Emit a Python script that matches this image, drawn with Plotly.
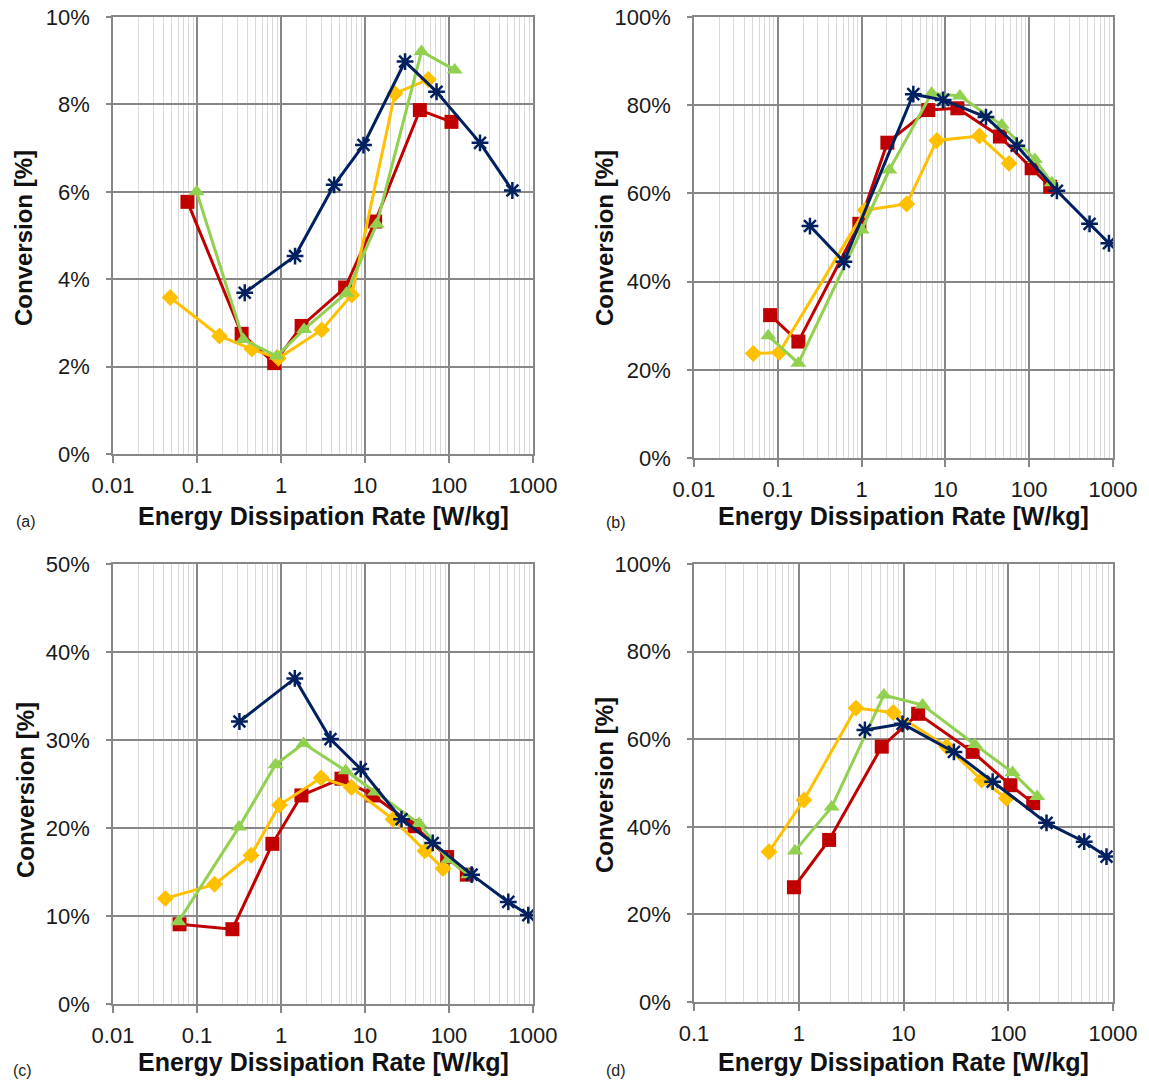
import plotly.graph_objects as go

# ---- data: energy dissipation rate [W/kg] and conversion [%] ----
# panel (a)
a_navy_x = [0.37, 1.47, 4.3, 9.6, 30, 71, 234, 568]
a_navy_y = [3.69, 4.53, 6.16, 7.07, 8.98, 8.29, 7.12, 6.03]
a_red_x = [0.077, 0.34, 0.83, 1.76, 5.8, 13.2, 45, 107]
a_red_y = [5.77, 2.75, 2.08, 2.93, 3.81, 5.32, 7.87, 7.60]
a_green_x = [0.099, 0.356, 0.89, 1.88, 6.0, 13.8, 47, 117]
a_green_y = [6.00, 2.62, 2.24, 2.85, 3.68, 5.26, 9.21, 8.79]
a_yellow_x = [0.048, 0.185, 0.45, 0.93, 3.05, 6.95, 22.7, 56.7]
a_yellow_y = [3.58, 2.70, 2.40, 2.19, 2.84, 3.64, 8.25, 8.57]

# panel (b)
b_navy_x = [0.242, 0.615, 4.14, 9.4, 30.5, 71, 214, 525, 895]
b_navy_y = [52.6, 44.5, 82.5, 81.2, 77.3, 70.8, 60.6, 53.1, 48.7]
b_red_x = [0.081, 0.176, 0.94, 2.03, 6.25, 13.9, 44.7, 107, 178]
b_red_y = [32.4, 26.4, 53.1, 71.5, 78.9, 79.3, 72.9, 65.7, 61.5]
b_green_x = [0.077, 0.176, 1.0, 2.14, 6.85, 14.9, 47, 117, 186]
b_green_y = [27.7, 21.5, 51.7, 65.3, 82.7, 82.1, 75.5, 67.7, 62.4]
b_yellow_x = [0.051, 0.104, 1.1, 3.45, 7.9, 25.4, 57.5]
b_yellow_y = [23.7, 23.9, 56.2, 57.6, 72.0, 73.0, 66.8]

# panel (c)
c_navy_x = [0.32, 1.46, 3.88, 8.9, 27.2, 64, 186, 508, 879]
c_navy_y = [32.1, 37.0, 30.1, 26.7, 21.0, 18.3, 14.7, 11.6, 10.1]
c_red_x = [0.062, 0.264, 0.79, 1.75, 5.25, 12.5, 39, 95, 163]
c_red_y = [9.06, 8.5, 18.2, 23.7, 25.6, 23.7, 20.2, 16.7, 14.7]
c_green_x = [0.06, 0.316, 0.86, 1.86, 5.9, 13.1, 44, 98, 170]
c_green_y = [9.35, 20.1, 27.2, 29.6, 26.5, 24.1, 20.5, 16.4, 14.7]
c_yellow_x = [0.042, 0.162, 0.44, 0.96, 3.0, 6.9, 21.6, 51.6, 85]
c_yellow_y = [12.0, 13.6, 16.9, 22.6, 25.7, 24.6, 21.0, 17.4, 15.4]

# panel (d)
d_navy_x = [4.28, 9.8, 30.3, 71, 232, 531, 867]
d_navy_y = [62.1, 63.5, 57.1, 50.3, 40.9, 36.6, 33.2]
d_red_x = [0.9, 1.95, 6.2, 13.8, 45.7, 105, 173]
d_red_y = [26.2, 37.0, 58.3, 65.8, 57.1, 49.5, 45.4]
d_green_x = [0.92, 2.06, 6.5, 15.2, 48, 110, 189]
d_green_y = [34.5, 44.5, 70.1, 67.8, 58.8, 52.4, 46.9]
d_yellow_x = [0.52, 1.12, 3.52, 7.98, 25.8, 55.6, 96]
d_yellow_y = [34.3, 46.1, 67.1, 66.1, 58.3, 50.7, 46.5]

x_ticks_full = [0.01, 0.1, 1, 10, 100, 1000]
x_text_full = ["0.01", "0.1", "1", "10", "100", "1000"]
x_ticks_d = [0.1, 1, 10, 100, 1000]
x_text_d = ["0.1", "1", "10", "100", "1000"]

W, H = 1149, 1082
NAVY, RED, GREEN, GOLD = "#002060", "#C00000", "#92D050", "#FFC000"
MAJOR, MINOR = "#878787", "#D9D9D9"
FONT = "Liberation Sans, Arial, sans-serif"

fig = go.Figure()

panels = [
    # (suffix, series, x domain px, y domain px (top,bottom), x decades, y max, y step)
    ("", (a_red_x, a_red_y, a_yellow_x, a_yellow_y, a_green_x, a_green_y, a_navy_x, a_navy_y),
     (113, 533), (17, 454), (-2, 3), 10, 2),
    ("2", (b_red_x, b_red_y, b_yellow_x, b_yellow_y, b_green_x, b_green_y, b_navy_x, b_navy_y),
     (694, 1113), (17, 458), (-2, 3), 100, 20),
    ("3", (c_red_x, c_red_y, c_yellow_x, c_yellow_y, c_green_x, c_green_y, c_navy_x, c_navy_y),
     (113, 533), (564, 1004), (-2, 3), 50, 10),
    ("4", (d_red_x, d_red_y, d_yellow_x, d_yellow_y, d_green_x, d_green_y, d_navy_x, d_navy_y),
     (694, 1113), (564, 1002), (-1, 3), 100, 20),
]

styles = [
    (RED, dict(symbol="square", size=14)),
    (GOLD, dict(symbol="diamond", size=13)),
    (GREEN, dict(symbol="triangle-up", size=14)),
    (NAVY, dict(symbol="asterisk-open", size=14, line=dict(width=2.5, color=NAVY))),
]

for suffix, data, xd, yd, dec, ymax, ystep in panels:
    xa = "x" + suffix
    ya = "y" + suffix
    for k, (col, mk) in enumerate(styles):
        xs, ys = data[2 * k], data[2 * k + 1]
        marker = dict(color=col, **mk)
        if "line" not in marker:
            marker["line"] = dict(width=0)
        fig.add_trace(go.Scatter(
            x=xs, y=ys, mode="lines+markers", xaxis=xa, yaxis=ya,
            line=dict(color=col, width=3), marker=marker,
            showlegend=False, hoverinfo="x+y"))

    lo, hi = dec
    minor_vals = [m * 10 ** e for e in range(lo, hi) for m in range(2, 10)]
    if lo == -2:
        tv, tt = x_ticks_full, x_text_full
    else:
        tv, tt = x_ticks_d, x_text_d
    yv = list(range(0, ymax + 1, ystep))
    fig.update_layout(**{
        "xaxis" + suffix: dict(
            type="log", range=[lo, hi], domain=[xd[0] / W, xd[1] / W],
            anchor=ya, tickmode="array", tickvals=tv, ticktext=tt,
            showgrid=True, gridcolor=MAJOR, gridwidth=1.5,
            showline=True, linecolor=MAJOR, linewidth=1.5, mirror=True,
            ticks="outside", ticklen=7, tickcolor=MAJOR, tickwidth=1.5,
            tickfont=dict(family=FONT, size=22, color="#1a1a1a"),
            ticklabelstandoff=4,
            minor=dict(tickvals=minor_vals, showgrid=True, gridcolor=MINOR,
                       gridwidth=1, ticks=""),
            zeroline=False, fixedrange=True, automargin=False,
        ),
        "yaxis" + suffix: dict(
            range=[0, ymax], domain=[1 - yd[1] / H, 1 - yd[0] / H],
            anchor=xa, tickmode="array", tickvals=yv,
            ticktext=[f"{v}%" for v in yv],
            showgrid=True, gridcolor=MAJOR, gridwidth=1.5,
            showline=True, linecolor=MAJOR, linewidth=1.5, mirror=True,
            ticks="outside", ticklen=5, tickcolor=MAJOR, tickwidth=1.5,
            tickfont=dict(family=FONT, size=22, color="#1a1a1a"),
            ticklabelstandoff=12,
            zeroline=False, fixedrange=True, automargin=False,
        ),
    })

annotations = []
# axis titles
for cx, cy in [(323, 516), (903, 516), (323, 1062), (903, 1062)]:
    annotations.append(dict(
        text="<b>Energy Dissipation Rate [W/kg]</b>", x=cx / W, y=1 - cy / H,
        xref="paper", yref="paper", xanchor="center", yanchor="middle",
        showarrow=False, font=dict(family=FONT, size=25, color="#111111")))
for cx, cy in [(23, 238), (604, 238), (25, 790), (604, 785)]:
    annotations.append(dict(
        text="<b>Conversion [%]</b>", x=cx / W, y=1 - cy / H, textangle=-90,
        xref="paper", yref="paper", xanchor="center", yanchor="middle",
        showarrow=False, font=dict(family=FONT, size=24, color="#111111")))
# panel letters
for lab, cx, cy in [("(a)", 26, 521), ("(b)", 616, 522), ("(c)", 22, 1070), ("(d)", 616, 1070)]:
    annotations.append(dict(
        text=lab, x=cx / W, y=1 - cy / H,
        xref="paper", yref="paper", xanchor="center", yanchor="middle",
        showarrow=False, font=dict(family=FONT, size=16, color="#222222")))

fig.update_layout(
    width=W, height=H, margin=dict(l=0, r=0, t=0, b=0),
    paper_bgcolor="white", plot_bgcolor="white",
    annotations=annotations, showlegend=False,
)

fig.write_html("out.html", include_plotlyjs=True, config={"displayModeBar": False})
